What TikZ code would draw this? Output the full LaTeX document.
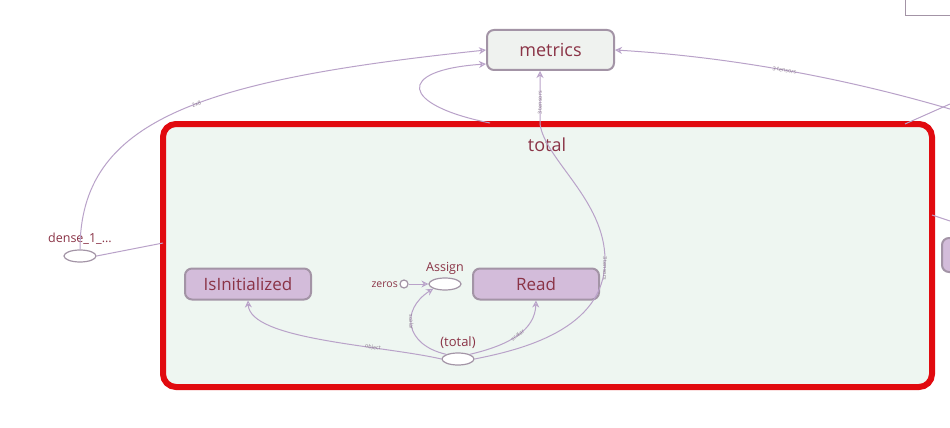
\documentclass[tikz,border=0pt]{standalone}
\usepackage{fontspec}
\setmainfont{Open Sans}
\usetikzlibrary{arrows.meta,shapes.geometric}
\definecolor{txt}{HTML}{8A3346}
\definecolor{edge}{HTML}{B9A2C9}
\definecolor{lilac}{HTML}{D3BCDA}
\definecolor{lilacb}{HTML}{A394A6}
\definecolor{metf}{HTML}{EFF2EF}
\definecolor{boxf}{HTML}{EEF6F1}
\definecolor{redb}{HTML}{E10A0F}
\definecolor{elab}{HTML}{8C7C90}
\tikzset{
  opbox/.style={draw=lilacb, line width=2pt, fill=lilac, rounded corners=7pt,
    minimum width=126pt, minimum height=31pt, text=txt, font=\fontsize{17}{17}\selectfont, inner sep=0pt},
  opell/.style={draw=lilacb, line width=1.2pt, fill=white, ellipse, minimum width=32pt, minimum height=12pt, inner sep=0pt},
  lbl/.style={text=txt, inner sep=0pt},
  con/.style={draw=edge, line width=1pt},
  arr/.style={con, -{Stealth[open, length=7pt, width=7pt]}},
  elbl/.style={text=elab, font=\fontsize{5.5}{5.5}\selectfont, inner sep=0.3pt, sloped}
}
\begin{document}
\begin{tikzpicture}[x=1pt,y=-1pt]
\useasboundingbox (0,0) rectangle (950,428);
\clip (0,0) rectangle (950,428);
\fill[white] (0,0) rectangle (950,428);
% top-right partial box
\node[draw=lilacb, fill=white, minimum width=60pt, minimum height=30pt, inner sep=0pt] (tr) at (935,0) {};
% red group box
\node[draw=redb, line width=6pt, fill=boxf, rounded corners=13pt, minimum width=769pt, minimum height=263pt, inner sep=0pt] (totalbox) at (547.5,255.5) {};
\node[lbl, font=\fontsize{18}{18}\selectfont] (totaltitle) at (547,145) {total};
% metrics
\node[draw=lilacb, line width=2pt, fill=metf, rounded corners=7pt, minimum width=127pt, minimum height=40pt, inner sep=0pt, text=txt, font=\fontsize{18}{18}\selectfont] (metrics) at (550.5,50) {metrics};
% inner nodes
\node[opbox] (isinit) at (248,284) {IsInitialized};
\node[opbox] (read) at (536,284) {Read};
\node[opell] (assign) at (445,284) {};
\node[lbl, font=\fontsize{12.5}{12.5}\selectfont] (assignl) at (445,268) {Assign};
\node[draw=lilacb, line width=1.2pt, fill=white, circle, minimum size=8pt, inner sep=0pt] (zeros) at (404,284) {};
\node[lbl, font=\fontsize{10.5}{10.5}\selectfont, anchor=east] (zerosl) at (398,284.5) {zeros};
\node[opell] (tot) at (458,359) {};
\node[lbl, font=\fontsize{13}{13}\selectfont] (totl) at (458,343) {(total)};
% outer nodes
\node[opell] (dense) at (80,256) {};
\node[lbl, font=\fontsize{12.5}{12.5}\selectfont] (densel) at (80,239) {dense\_1\_...};
\node[opbox, minimum width=40pt, minimum height=34pt] (rnode) at (962,255) {};
% coordinates
\coordinate (tbl) at (163,243);
\coordinate (tbr) at (932,215);
\coordinate (rin) at (950,221);
\coordinate (rtop) at (960,112);
\coordinate (rtop2) at (950,104);
\coordinate (tbrt) at (905,124);
\coordinate (loopst) at (490,123);
\coordinate (upmid) at (605,260);
\coordinate (topcross) at (540,124);
% edges
\draw[arr] (dense.north) .. controls (80,120) and (200,80) .. node[elbl, pos=0.55] {2x8} (metrics.west);
\draw[con] (dense.east) -- (tbl);
\draw[arr] (loopst) .. controls (400,105) and (395,70) .. (metrics.west |- 0,64);
\draw[arr] (tot.east) .. controls (520,350) and (605,330) .. (upmid)
  .. controls (605,200) and (545,160) .. (topcross)
  -- node[elbl, pos=0.4] {3 tensors} (metrics.south -| topcross);
\path (upmid) -- node[elbl, pos=0.2] {3 tensors} (605,300);
\draw[arr] (rtop) .. controls (820,70) and (700,55) .. node[elbl, pos=0.45] {3 tensors} (metrics.east);
\draw[con] (tbrt) -- (rtop2);
\draw[con] (tbr) -- (rin);
\draw[arr] (zeros.east) -- (assign.west);
\draw[arr] (tot.west) .. controls (380,345) and (250,340) .. node[elbl, pos=0.3] {object} (isinit.south);
\draw[arr] (tot.north west) .. controls (405,345) and (400,310) .. node[elbl, pos=0.55] {scalar} (assign.south west);
\draw[arr] (tot.north east) .. controls (510,345) and (535,330) .. node[elbl, pos=0.5] {scalar} (read.south);
\end{tikzpicture}
\end{document}
